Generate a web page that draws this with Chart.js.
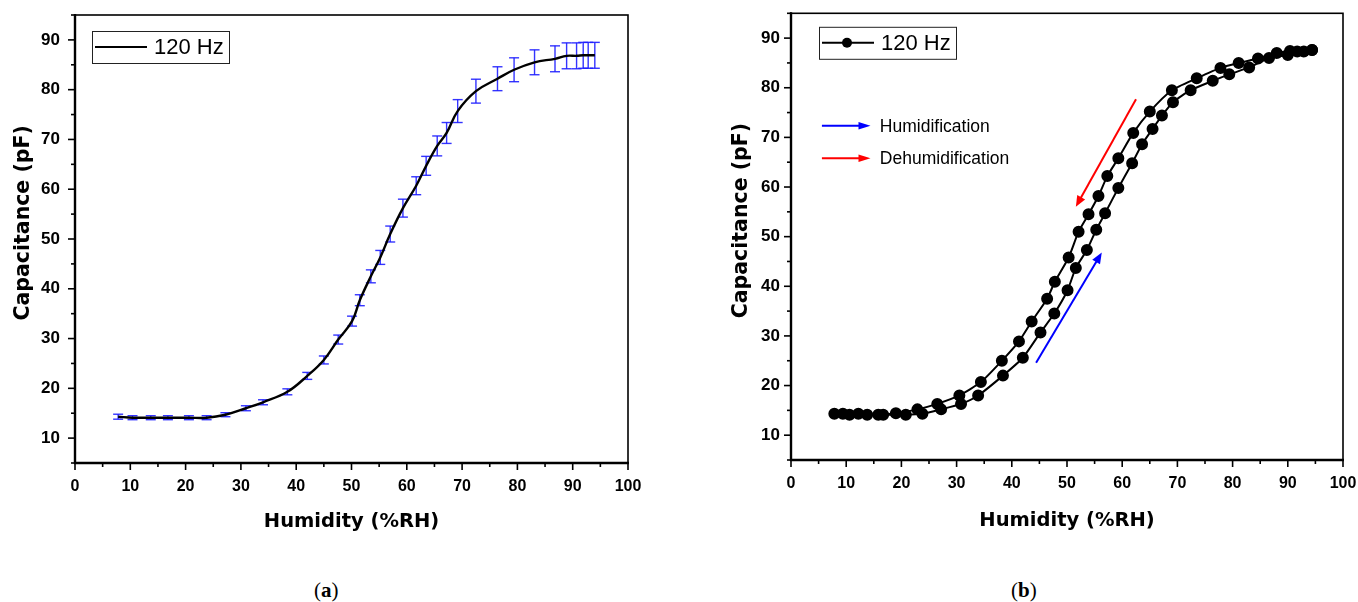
<!DOCTYPE html>
<html>
<head>
<meta charset="utf-8">
<script src="https://cdn.jsdelivr.net/npm/chart.js@4.4.1/dist/chart.umd.min.js"></script>
<style>
  body { margin: 0; background: #fff; width: 1358px; height: 602px; position: relative; overflow: hidden; }
  canvas { position: absolute; top: 0; }
  #chartA { left: 0; }
  #chartB { left: 716px; }
  .cap { position: absolute; top: 578px; line-height: 24px; font-family: 'Liberation Serif', serif; font-size: 21px; color: #000; }
</style>
</head>
<body>
<canvas id="chartA" width="680" height="545"></canvas>
<canvas id="chartB" width="642" height="545"></canvas>
<div class="cap" style="left:314px">(<b>a</b>)</div>
<div class="cap" style="left:1011px">(<b>b</b>)</div>
<script>
// (a) capacitance vs humidity with error bars
const humA = [7.8, 10.4, 13.7, 16.8, 20.6, 23.8, 27.2, 30.9, 34.0, 38.4, 42.0, 45.0, 47.6, 50.1, 51.5, 53.5, 55.2,
  57.0, 59.3, 61.7, 63.5, 65.5, 67.2, 69.2, 72.5, 76.4, 79.4, 83.1, 86.8, 88.9, 90.7, 91.9, 92.8, 94.0];
const capA = [14.3, 14.1, 14.1, 14.1, 14.1, 14.1, 14.7, 16.0, 17.2, 19.3, 22.5, 25.7, 29.8, 33.5, 37.7, 42.5, 46.3,
  51.0, 56.2, 60.7, 64.7, 68.7, 71.3, 75.7, 79.7, 82.2, 84.0, 85.5, 86.2, 86.8, 86.8, 86.9, 86.9, 86.9];
const errA = [0.5, 0.4, 0.4, 0.4, 0.4, 0.4, 0.4, 0.5, 0.5, 0.6, 0.7, 0.8, 0.9, 1.0, 1.1, 1.3, 1.4,
  1.6, 1.8, 1.8, 1.9, 2.0, 2.1, 2.3, 2.4, 2.4, 2.4, 2.5, 2.6, 2.6, 2.6, 2.6, 2.6, 2.6];

// (b) hysteresis: humidification (lower branch) and dehumidification (upper branch)
const humX = [7.85, 10.6, 13.8, 16.7, 20.8, 23.8, 27.2, 30.8, 33.9, 38.4, 42.0, 45.2, 47.7, 50.1, 51.6, 53.6, 55.3,
  56.9, 59.3, 61.8, 63.6, 65.5, 67.2, 69.2, 72.4, 76.4, 79.4, 83.0, 86.6, 90.0, 91.7, 94.4];
const humY = [14.3, 14.1, 14.1, 14.1, 14.1, 14.3, 15.2, 16.3, 18.0, 22.0, 25.6, 30.7, 34.5, 39.2, 43.7, 47.3, 51.4,
  54.7, 59.8, 64.8, 68.6, 71.7, 74.4, 77.1, 79.5, 81.4, 82.7, 84.1, 86.0, 86.6, 87.3, 87.6];
const dehX = [9.4, 12.2, 15.8, 19.0, 22.9, 26.5, 30.5, 34.4, 38.2, 41.3, 43.6, 46.4, 47.8, 50.3, 52.1, 53.9, 55.7,
  57.3, 59.3, 62.0, 65.0, 69.0, 73.5, 77.8, 81.1, 84.6, 88.0, 90.4, 92.9, 94.4];
const dehY = [14.3, 14.3, 14.1, 14.4, 15.2, 16.3, 18.0, 20.7, 25.0, 28.9, 32.9, 37.5, 40.9, 45.8, 51.0, 54.5, 58.2,
  62.2, 65.8, 70.9, 75.2, 79.5, 81.9, 84.0, 85.0, 85.9, 87.0, 87.4, 87.3, 87.6];

// arrows in data units: [x1, y1, x2, y2]
const arrowUp = [44.4, 24.6, 56.3, 46.8];
const arrowDown = [62.5, 77.7, 51.6, 56.0];
const keyLabels = ['Humidification', 'Dehumidification'];
const keyColors = ['#0000ff', '#ff0000'];
const keyY = [72.35, 65.8];
const keyX = [5.6, 14.4, 16.1];

const seriesLabel = '120 Hz';
const xTitle = 'Humidity (%RH)';
const yTitle = 'Capacitance (pF)';

Chart.defaults.font.family = "'Liberation Sans', Arial, sans-serif";
Chart.defaults.color = '#000';

const pts = (xs, ys) => xs.map((x, i) => ({ x: x, y: ys[i] }));

function line(ctx, x1, y1, x2, y2) {
  ctx.beginPath(); ctx.moveTo(x1, y1); ctx.lineTo(x2, y2); ctx.stroke();
}

function arrow(ctx, x1, y1, x2, y2, color, len, half) {
  const a = Math.atan2(y2 - y1, x2 - x1);
  ctx.strokeStyle = color; ctx.fillStyle = color; ctx.lineWidth = 2;
  line(ctx, x1, y1, x2 - Math.cos(a) * len * 0.6, y2 - Math.sin(a) * len * 0.6);
  ctx.beginPath();
  ctx.moveTo(x2, y2);
  ctx.lineTo(x2 - Math.cos(a) * len + Math.sin(a) * half, y2 - Math.sin(a) * len - Math.cos(a) * half);
  ctx.lineTo(x2 - Math.cos(a) * len - Math.sin(a) * half, y2 - Math.sin(a) * len + Math.cos(a) * half);
  ctx.closePath(); ctx.fill();
}

// frame, ticks, y title, legend box
const frame = {
  id: 'frame',
  afterDraw(chart, args, opts) {
    const { ctx, chartArea: a, scales: { x, y } } = chart;
    ctx.save();
    ctx.strokeStyle = '#000';
    ctx.lineWidth = 1.6;
    x.ticks.forEach(t => {
      const px = x.getPixelForValue(t.value);
      line(ctx, px, a.bottom, px, a.bottom + (t.value % 10 === 0 ? 7 : 4));
    });
    y.ticks.forEach(t => {
      const py = y.getPixelForValue(t.value);
      line(ctx, a.left, py, a.left - (t.value % 10 === 0 ? 7 : 4), py);
    });
    ctx.lineWidth = 1.6;
    ctx.strokeRect(a.left, a.top, a.right - a.left, a.bottom - a.top);
    ctx.lineWidth = 2.4;
    line(ctx, a.left, a.top - 1, a.left, a.bottom + 1);
    line(ctx, a.left - 1, a.bottom, a.right + 1, a.bottom);

    // y axis title
    ctx.save();
    ctx.translate(opts.titleX, a.top + (a.bottom - a.top) * 0.464);
    ctx.rotate(-Math.PI / 2);
    ctx.font = "bold 20.5px 'DejaVu Sans'";
    ctx.fillStyle = '#000';
    ctx.textAlign = 'center';
    ctx.textBaseline = 'middle';
    ctx.fillText(yTitle, 0, 0);
    ctx.restore();

    // legend box
    const bx = a.left + opts.boxX, by = a.top + opts.boxY;
    ctx.fillStyle = '#fff';
    ctx.fillRect(bx, by, 137, 32);
    ctx.strokeStyle = '#222';
    ctx.lineWidth = 1;
    ctx.strokeRect(bx + 0.5, by + 0.5, 137, 32);
    ctx.lineWidth = 2;
    ctx.strokeStyle = '#000';
    line(ctx, bx + 3, by + 16, bx + 55, by + 16);
    if (opts.marker) {
      ctx.fillStyle = '#000';
      ctx.beginPath(); ctx.arc(bx + 28, by + 16, 5, 0, Math.PI * 2); ctx.fill();
    }
    ctx.fillStyle = '#000';
    ctx.font = "22px 'Liberation Sans'";
    ctx.textAlign = 'left';
    ctx.textBaseline = 'middle';
    ctx.fillText(seriesLabel, bx + 62, by + 17);
    ctx.restore();
  }
};

const errorBars = {
  id: 'errorBars',
  beforeDatasetsDraw(chart) {
    const { ctx, scales: { x, y } } = chart;
    ctx.save();
    ctx.strokeStyle = 'rgba(30,30,255,0.9)';
    ctx.lineWidth = 1.4;
    humA.forEach((h, i) => {
      const px = x.getPixelForValue(h);
      const top = y.getPixelForValue(capA[i] + errA[i]);
      const bot = y.getPixelForValue(capA[i] - errA[i]);
      line(ctx, px, top, px, bot);
      line(ctx, px - 5, top, px + 5, top);
      line(ctx, px - 5, bot, px + 5, bot);
    });
    ctx.restore();
  }
};

const arrows = {
  id: 'arrows',
  afterDraw(chart) {
    const { ctx, scales: { x, y } } = chart;
    ctx.save();
    arrow(ctx, x.getPixelForValue(arrowUp[0]), y.getPixelForValue(arrowUp[1]),
      x.getPixelForValue(arrowUp[2]), y.getPixelForValue(arrowUp[3]), '#0000ff', 11, 4.5);
    arrow(ctx, x.getPixelForValue(arrowDown[0]), y.getPixelForValue(arrowDown[1]),
      x.getPixelForValue(arrowDown[2]), y.getPixelForValue(arrowDown[3]), '#ff0000', 11, 4.5);
    keyLabels.forEach((lab, i) => {
      const py = y.getPixelForValue(keyY[i]);
      arrow(ctx, x.getPixelForValue(keyX[0]), py, x.getPixelForValue(keyX[1]), py, keyColors[i], 12, 3.8);
      ctx.fillStyle = '#000';
      ctx.font = "17.5px 'Liberation Sans'";
      ctx.textAlign = 'left';
      ctx.textBaseline = 'middle';
      ctx.fillText(lab, x.getPixelForValue(keyX[2]), py + 1);
    });
    ctx.restore();
  }
};

function scales(xHeight, xTitlePad, yLabelPad) {
  return {
    x: {
      type: 'linear', min: 0, max: 100,
      grid: { display: false, drawTicks: false },
      border: { display: false },
      ticks: {
        stepSize: 5, padding: 14, autoSkip: false, maxRotation: 0,
        font: { size: 16, weight: 'bold' }, color: '#000',
        callback: v => (v % 10 === 0 ? v : '')
      },
      title: {
        display: true, text: xTitle, color: '#000',
        font: { family: 'DejaVu Sans', size: 19.5, weight: 'bold' },
        padding: { top: 0, bottom: xTitlePad }
      },
      afterFit: s => { s.height = xHeight; s.paddingLeft = 0; s.paddingRight = 0; }
    },
    y: {
      type: 'linear', min: 5, max: 95,
      grid: { display: false, drawTicks: false },
      border: { display: false },
      ticks: {
        stepSize: 5, padding: yLabelPad, autoSkip: false,
        font: { size: 17, weight: 'bold' }, color: '#000',
        callback: v => (v % 10 === 0 ? v : '')
      },
      afterFit: s => { s.width = 75; s.paddingTop = 0; s.paddingBottom = 0; }
    }
  };
}

new Chart(document.getElementById('chartA'), {
  type: 'scatter',
  data: {
    datasets: [{
      label: seriesLabel,
      data: pts(humA, capA),
      showLine: true,
      borderColor: '#000',
      borderWidth: 2.4,
      pointRadius: 0,
      tension: 0.4
    }]
  },
  options: {
    responsive: false,
    animation: false,
    layout: { padding: { top: 15, right: 52, left: 0, bottom: 0 } },
    scales: scales(82, 11, 15),
    plugins: {
      legend: { display: false },
      tooltip: { enabled: false },
      frame: { titleX: 23.3, boxX: 17, boxY: 16, marker: false }
    }
  },
  plugins: [errorBars, frame]
});

new Chart(document.getElementById('chartB'), {
  type: 'scatter',
  data: {
    datasets: [{
      label: 'Humidification',
      data: pts(humX, humY),
      showLine: true,
      borderColor: '#000',
      borderWidth: 2,
      backgroundColor: '#000',
      pointRadius: 5,
      tension: 0.2
    }, {
      label: 'Dehumidification',
      data: pts(dehX, dehY),
      showLine: true,
      borderColor: '#000',
      borderWidth: 2,
      backgroundColor: '#000',
      pointRadius: 5,
      tension: 0.2
    }]
  },
  options: {
    responsive: false,
    animation: false,
    layout: { padding: { top: 13.3, right: 15, left: 0, bottom: 0 } },
    scales: scales(85, 12, 11),
    plugins: {
      legend: { display: false },
      tooltip: { enabled: false },
      frame: { titleX: 25.7, boxX: 28, boxY: 13.5, marker: true }
    }
  },
  plugins: [arrows, frame]
});
</script>
</body>
</html>
